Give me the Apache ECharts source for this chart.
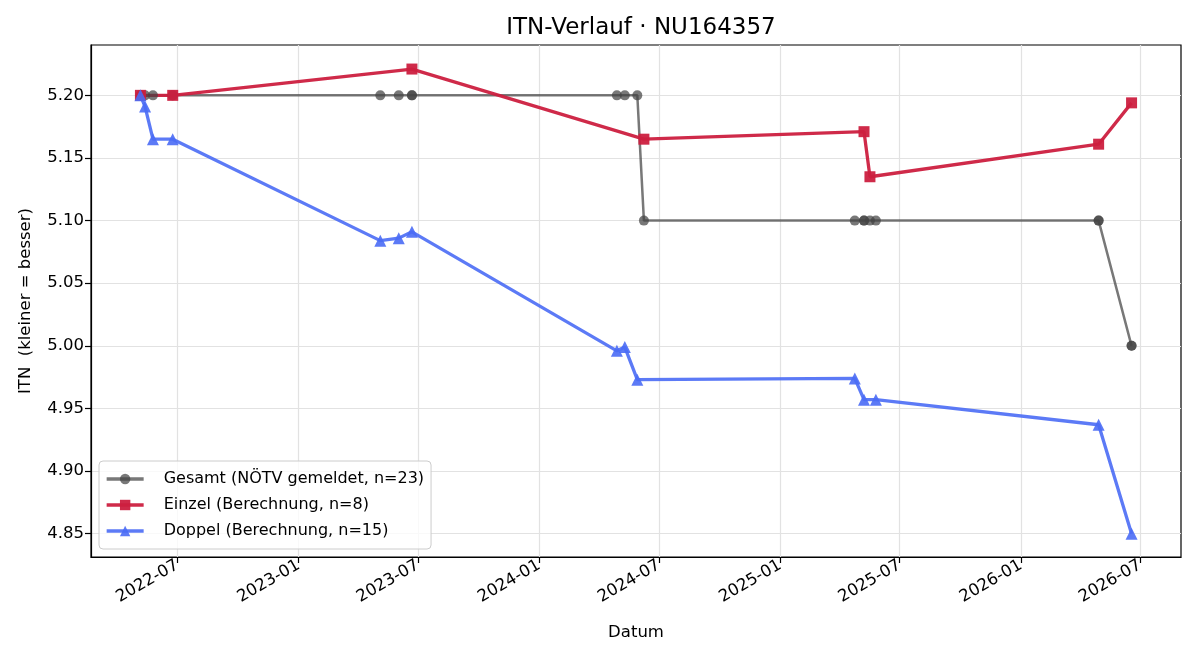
<!DOCTYPE html>
<html>
<head>
<meta charset="utf-8">
<title>ITN-Verlauf</title>
<script src="https://cdn.jsdelivr.net/npm/echarts@6/dist/echarts.min.js"></script>
<style>
    html, body { margin: 0; padding: 0; background: #fff; }
    #chart { width: 1200px; height: 660px; }
</style>
</head>
<body>
<div id="chart"></div>
<script>
// Gesamt (NÖTV gemeldet) -- ein Punkt pro Spiel
var gesamtDates = ['2022-05-06', '2022-05-06', '2022-05-13', '2022-05-25', '2022-06-24', '2022-06-24',
    '2023-05-05', '2023-06-02', '2023-06-22', '2023-06-22', '2024-04-28', '2024-05-10', '2024-05-29',
    '2024-06-08', '2025-04-24', '2025-05-08', '2025-05-08', '2025-05-17', '2025-05-26',
    '2026-04-29', '2026-04-29', '2026-06-18', '2026-06-18'];
var gesamtValues = [5.20, 5.20, 5.20, 5.20, 5.20, 5.20,
    5.20, 5.20, 5.20, 5.20, 5.20, 5.20, 5.20,
    5.10, 5.10, 5.10, 5.10, 5.10, 5.10,
    5.10, 5.10, 5.00, 5.00];

// Einzel (Berechnung)
var einzelDates = ['2022-05-06', '2022-06-24', '2023-06-22', '2024-06-08', '2025-05-08', '2025-05-17', '2026-04-29', '2026-06-18'];
var einzelValues = [5.200, 5.200, 5.221, 5.165, 5.171, 5.135, 5.161, 5.194];

// Doppel (Berechnung)
var doppelDates = ['2022-05-06', '2022-05-13', '2022-05-25', '2022-06-24', '2023-05-05', '2023-06-02', '2023-06-22',
    '2024-04-28', '2024-05-10', '2024-05-29', '2025-04-24', '2025-05-08', '2025-05-26', '2026-04-29', '2026-06-18'];
var doppelValues = [5.200, 5.191, 5.165, 5.165, 5.084, 5.086, 5.091,
    4.996, 4.999, 4.973, 4.974, 4.957, 4.957, 4.937, 4.850];

// Achsenbeschriftung
var xTickLabels = ['2022-07', '2023-01', '2023-07', '2024-01', '2024-07', '2025-01', '2025-07', '2026-01', '2026-07'];
var yTickValues = [4.85, 4.90, 4.95, 5.00, 5.05, 5.10, 5.15, 5.20];

var FONT = 'DejaVu Sans';

/**
 * Datum -> Tage seit 1970 (UTC), damit die x-Achse eine normale Werteachse sein kann
 */
function toDay(s) {
    var p = s.split('-');
    return Date.UTC(+p[0], +p[1] - 1, p[2] ? +p[2] : 1) / 86400000;
}

function pairs(dates, values) {
    var out = [];
    for (var i = 0; i < dates.length; i++) {
        out.push([toDay(dates[i]), values[i]]);
    }
    return out;
}

function pad2(n) {
    return n < 10 ? '0' + n : '' + n;
}

var xTicks = xTickLabels.map(toDay);

var myChart = echarts.init(document.getElementById('chart'));

var option = {
    animation: false,
    backgroundColor: '#ffffff',
    textStyle: { fontFamily: FONT },
    title: {
        text: 'ITN-Verlauf · NU164357',
        left: 636,
        textAlign: 'center',
        top: 12,
        textStyle: { fontFamily: FONT, fontSize: 23, fontWeight: 'normal', color: '#000' }
    },
    grid: {
        left: 91,
        right: 19,
        top: 45,
        bottom: 103,
        show: true,
        borderColor: '#000',
        borderWidth: 1.2,
        containLabel: false
    },
    legend: {
        orient: 'vertical',
        left: 99,
        top: 461,
        itemWidth: 37,
        itemHeight: 13,
        itemGap: 10,
        padding: [10, 7, 10, 6],
        backgroundColor: 'rgba(255,255,255,0.8)',
        borderColor: '#cccccc',
        borderWidth: 1,
        borderRadius: 4,
        lineStyle: { width: 3.3 },
        textStyle: { fontFamily: FONT, fontSize: 16, color: '#000', padding: [0, 0, 0, 15] },
        data: ['Gesamt (NÖTV gemeldet, n=23)', 'Einzel (Berechnung, n=8)', 'Doppel (Berechnung, n=15)']
    },
    xAxis: {
        type: 'value',
        min: toDay('2022-02-20'),
        max: toDay('2026-09-01'),
        name: 'Datum',
        nameLocation: 'middle',
        nameGap: 67,
        nameTextStyle: { fontFamily: FONT, fontSize: 16.5, color: '#000' },
        axisLine: { show: true, lineStyle: { color: '#000', width: 1.2 } },
        axisTick: { show: true, length: 6, customValues: xTicks, lineStyle: { color: '#000', width: 1.2 } },
        axisLabel: {
            customValues: xTicks,
            rotate: 30,
            margin: 7,
            fontFamily: FONT,
            fontSize: 16.5,
            color: '#000',
            formatter: function (v) {
                var d = new Date(Math.round(v) * 86400000);
                return d.getUTCFullYear() + '-' + pad2(d.getUTCMonth() + 1);
            }
        },
        splitLine: { show: true, lineStyle: { color: '#e2e2e2', width: 1.2 } }
    },
    yAxis: {
        type: 'value',
        min: 4.8314,
        max: 5.2402,
        name: 'ITN  (kleiner = besser)',
        nameLocation: 'middle',
        nameGap: 57,
        nameTextStyle: { fontFamily: FONT, fontSize: 16.5, color: '#000' },
        axisLine: { show: true, lineStyle: { color: '#000', width: 1.2 } },
        axisTick: { show: true, length: 6, customValues: yTickValues, lineStyle: { color: '#000', width: 1.2 } },
        axisLabel: {
            customValues: yTickValues,
            margin: 7,
            fontFamily: FONT,
            fontSize: 16.5,
            color: '#000',
            formatter: function (v) {
                return v.toFixed(2);
            }
        },
        splitLine: { show: true, lineStyle: { color: '#e2e2e2', width: 1.2 } }
    },
    series: [{
        name: 'Gesamt (NÖTV gemeldet, n=23)',
        type: 'line',
        data: pairs(gesamtDates, gesamtValues),
        symbol: 'circle',
        symbolSize: 10,
        showAllSymbol: true,
        color: '#444444',
        lineStyle: { color: '#444444', width: 2.5, opacity: 0.72 },
        itemStyle: { color: '#444444', opacity: 0.72 }
    }, {
        name: 'Einzel (Berechnung, n=8)',
        type: 'line',
        data: pairs(einzelDates, einzelValues),
        symbol: 'rect',
        symbolSize: 11,
        showAllSymbol: true,
        color: '#cc1f3f',
        lineStyle: { color: '#cc1f3f', width: 3.3, opacity: 0.95 },
        itemStyle: { color: '#cc1f3f', opacity: 0.95 }
    }, {
        name: 'Doppel (Berechnung, n=15)',
        type: 'line',
        data: pairs(doppelDates, doppelValues),
        symbol: 'triangle',
        symbolSize: 12,
        showAllSymbol: true,
        color: '#4a6cf5',
        lineStyle: { color: '#4a6cf5', width: 3.3, opacity: 0.9 },
        itemStyle: { color: '#4a6cf5', opacity: 0.9 }
    }]
};

myChart.setOption(option);
</script>
</body>
</html>
